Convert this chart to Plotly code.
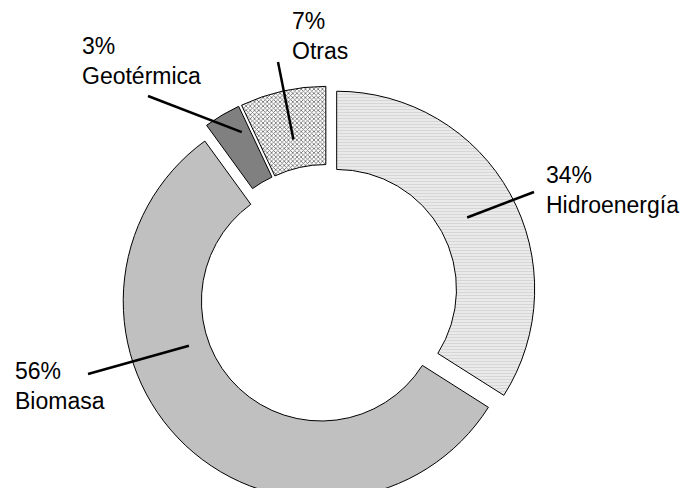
import math
import plotly.graph_objects as go

# Energy sources and their shares (%)
labels = ["Hidroenergía", "Biomasa", "Geotérmica", "Otras"]
shares = [34, 56, 3, 7]

# Slice fills
fill_colors = ["#ededed", "#c0c0c0", "#808080", "#ffffff"]
pattern_shapes = ["-", "", "", "x"]
pattern_fg = ["#d6d6d6", "#c0c0c0", "#808080", "#6a6a6a"]

# Figure geometry (pixels)
W, H = 684, 510
CX, CY = 328, 294          # donut centre
R = 198                    # outer radius
PULL = 0.05                # slice explosion, fraction of radius
HOLE = 0.605

half = R * (1 + PULL)
dom_x = [(CX - half) / W, (CX + half) / W]
dom_y = [(H - CY - half) / H, (H - CY + half) / H]

fig = go.Figure(go.Pie(
    labels=labels,
    values=shares,
    sort=False,
    direction="clockwise",
    rotation=0,
    hole=HOLE,
    pull=[PULL] * len(shares),
    textinfo="none",
    hoverinfo="label+percent",
    marker=dict(
        colors=fill_colors,
        line=dict(color="#000000", width=1),
        pattern=dict(
            shape=pattern_shapes,
            fgcolor=pattern_fg,
            bgcolor=fill_colors,
            size=[3, 8, 8, 3],
            solidity=[0.4, 0.3, 0.3, 0.45],
        ),
    ),
    domain=dict(x=dom_x, y=dom_y),
    showlegend=False,
))

# Leader-line anchors: position along the slice (0..1) and distance from slice centre (x R)
anchor_frac = [0.5, 0.64, 0.75, 0.5]
anchor_rad = [0.752, 0.705, 0.876, 0.75]
# Label-side end of each leader line, and top-left corner of each label (px)
tails = [(534, 192), (88, 374), (148, 96), (278, 62)]
label_pos = [(544, 160), (13, 356), (80, 31), (290, 6)]


def px_to_paper(x, y):
    return x / W, (H - y) / H


total = sum(shares)
start = 0.0
shapes = []
annotations = []
for i, v in enumerate(shares):
    span = 360.0 * v / total
    mid = math.radians(start + span / 2)
    sx = CX + PULL * R * math.sin(mid)
    sy = CY - PULL * R * math.cos(mid)
    a = math.radians(start + span * anchor_frac[i])
    tx = sx + anchor_rad[i] * R * math.sin(a)
    ty = sy - anchor_rad[i] * R * math.cos(a)
    x0, y0 = px_to_paper(*tails[i])
    x1, y1 = px_to_paper(tx, ty)
    shapes.append(dict(type="line", xref="paper", yref="paper",
                       x0=x0, y0=y0, x1=x1, y1=y1,
                       line=dict(color="#000000", width=2.5)))
    lx, ly = px_to_paper(*label_pos[i])
    annotations.append(dict(
        text=f"{v}%<br>{labels[i]}",
        xref="paper", yref="paper", x=lx, y=ly,
        xanchor="left", yanchor="top", align="left",
        showarrow=False,
        font=dict(family="Liberation Sans, Arial, sans-serif", size=23, color="#000000"),
    ))
    start += span

fig.update_layout(
    width=W, height=H,
    margin=dict(l=0, r=0, t=0, b=0),
    paper_bgcolor="#ffffff",
    plot_bgcolor="#ffffff",
    shapes=shapes,
    annotations=annotations,
)

fig.write_html(
    "out.html",
    post_script="document.documentElement.style.overflow='hidden';document.body.style.overflow='hidden';",
)
